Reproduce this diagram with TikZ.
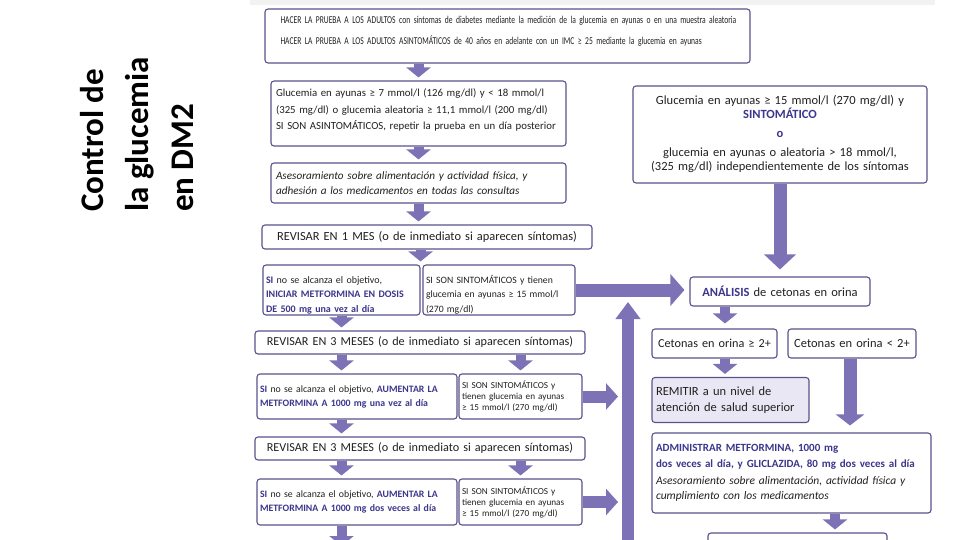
\documentclass[tikz,border=0pt]{standalone}
\usepackage{fontspec}
\setmainfont{Carlito}
\newfontfamily\condfont[FakeStretch=0.72]{Carlito}
\usetikzlibrary{arrows.meta,calc}
\definecolor{arrowc}{RGB}{124,114,181}
\definecolor{bordc}{RGB}{88,82,140}
\definecolor{purp}{RGB}{60,54,140}
\definecolor{txt}{RGB}{35,31,32}
\definecolor{remfill}{RGB}{233,231,243}
\newcommand{\pb}[1]{\textcolor{purp}{\bfseries #1}}
\tikzset{
  box/.style={draw=bordc, line width=1.1pt, rounded corners=3pt, fill=white, inner ysep=0pt, text=txt},
  sarrow/.style={draw=arrowc, line width=10pt, -{Triangle[width=24pt,length=10pt]}, shorten >=3pt},
  marrow/.style={draw=arrowc, line width=12pt, -{Triangle[width=26pt,length=12pt]}},
  barrow/.style={draw=arrowc, line width=13pt, -{Triangle[width=31pt,length=15pt]}},
}
\begin{document}
\hyphenpenalty=10000 \exhyphenpenalty=10000
\begin{tikzpicture}[x=1pt,y=-1pt]
\clip (0,0) rectangle (960,540);
\fill[white] (0,0) rectangle (960,540);
\fill[black!5] (250,0) rectangle (935,5);
% title
\node[rotate=90, anchor=north west, align=left, inner sep=0pt, font=\fontsize{33}{45}\selectfont\bfseries] (title) at (80,212) {Control de\\la glucemia\\en DM2};
% left column
\node[box, minimum width=485, minimum height=54, text width=470, inner xsep=7.5pt, align=left, text depth=33pt, font=\condfont\fontsize{10.5}{21}\selectfont] (b1) at (507.5,36)
 {\hspace*{8pt}HACER LA PRUEBA A LOS ADULTOS con síntomas de diabetes mediante la medición de la glucemia en ayunas o en una muestra aleatoria\\
  \hspace*{8pt}HACER LA PRUEBA A LOS ADULTOS ASINTOMÁTICOS de 40 años en adelante con un IMC ≥ 25 mediante la glucemia en ayunas};
\node[box, minimum width=295, minimum height=65, text width=285, inner xsep=5pt, align=left, text depth=41pt, font=\fontsize{10.8}{16.5}\selectfont] (b2) at (418.5,113.5)
 {Glucemia en ayunas ≥ 7 mmol/l (126 mg/dl) y < 18 mmol/l\\(325 mg/dl) o glucemia aleatoria ≥ 11,1 mmol/l (200 mg/dl)\\SI SON ASINTOMÁTICOS, repetir la prueba en un día posterior};
\node[box, minimum width=295, minimum height=40, text width=285, inner xsep=5pt, align=left, font=\itshape\fontsize{11.2}{15}\selectfont] (b3) at (418.5,183)
 {Asesoramiento sobre alimentación y actividad física, y\\adhesión a los medicamentos en todas las consultas};
\node[box, minimum width=330, minimum height=24, text width=326, inner xsep=2pt, align=center, font=\fontsize{12.4}{15}\selectfont] (b4) at (427,237)
 {REVISAR EN 1 MES (o de inmediato si aparecen síntomas)};
\node[box, minimum width=157, minimum height=50, text width=151, inner xsep=3pt, align=left, text height=17pt, font=\fontsize{10}{14.5}\selectfont] (b5a) at (341.5,290)
 {\pb{SI} no se alcanza el objetivo,\\\pb{INICIAR METFORMINA EN DOSIS}\\\pb{DE 500 mg una vez al día}};
\node[box, minimum width=152, minimum height=50, text width=146, inner xsep=3pt, align=left, text height=17pt, font=\fontsize{9.7}{14.5}\selectfont] (b5b) at (499,290)
 {SI SON SINTOMÁTICOS y tienen\\glucemia en ayunas ≥ 15 mmol/l\\(270 mg/dl)};
\node[box, minimum width=330, minimum height=23, text width=326, inner xsep=2pt, align=center, font=\fontsize{12.2}{15}\selectfont] (b6) at (420,342.5)
 {REVISAR EN 3 MESES (o de inmediato si aparecen síntomas)};
\node[box, minimum width=200, minimum height=45, text width=194, inner xsep=3pt, align=left, font=\fontsize{9.8}{14}\selectfont] (b7a) at (357,396.5)
 {\pb{SI} no se alcanza el objetivo, \pb{AUMENTAR LA}\\\pb{METFORMINA A 1000 mg una vez al día}};
\node[box, minimum width=123, minimum height=45, text width=117, inner xsep=3pt, align=left, font=\fontsize{9.2}{11}\selectfont] (b7b) at (520.5,396.5)
 {SI SON SINTOMÁTICOS y\\tienen glucemia en ayunas\\≥ 15 mmol/l (270 mg/dl)};
\node[box, minimum width=330, minimum height=23, text width=326, inner xsep=2pt, align=center, font=\fontsize{12.2}{15}\selectfont] (b8) at (420,448.5)
 {REVISAR EN 3 MESES (o de inmediato si aparecen síntomas)};
\node[box, minimum width=200, minimum height=46, text width=194, inner xsep=3pt, align=left, font=\fontsize{9.8}{14}\selectfont] (b9a) at (357,502)
 {\pb{SI} no se alcanza el objetivo, \pb{AUMENTAR LA}\\\pb{METFORMINA A 1000 mg dos veces al día}};
\node[box, minimum width=123, minimum height=46, text width=117, inner xsep=3pt, align=left, font=\fontsize{9.2}{11}\selectfont] (b9b) at (520.5,502)
 {SI SON SINTOMÁTICOS y\\tienen glucemia en ayunas\\≥ 15 mmol/l (270 mg/dl)};
% right column
\node[box, minimum width=294, minimum height=97, text width=286, inner xsep=4pt, align=center, font=\fontsize{12.5}{14}\selectfont] (r1) at (780,134.5)
 {Glucemia en ayunas ≥ 15 mmol/l (270 mg/dl) y\\\pb{SINTOMÁTICO}\\[5pt]\pb{o}\\[5pt]glucemia en ayunas o aleatoria > 18 mmol/l,\\(325 mg/dl) independientemente de los síntomas};
\node[box, minimum width=180, minimum height=29, text width=176, inner xsep=2pt, align=center, font=\fontsize{12.5}{15}\selectfont] (ana) at (780,291.5)
 {\pb{ANÁLISIS} de cetonas en orina};
\node[box, minimum width=125, minimum height=29, text width=123, inner xsep=1pt, align=center, font=\fontsize{12.2}{15}\selectfont] (c1) at (714.5,343.5)
 {Cetonas en orina ≥ 2+};
\node[box, minimum width=128, minimum height=29, text width=124, inner xsep=2pt, align=center, font=\fontsize{12.5}{15}\selectfont] (c2) at (852,343.5)
 {Cetonas en orina < 2+};
\node[box, fill=remfill, minimum width=157, minimum height=45, text width=149, inner xsep=4pt, align=left, font=\fontsize{12.5}{15.5}\selectfont] (rem) at (730.5,400)
 {REMITIR a un nivel de\\atención de salud superior};
\node[box, minimum width=279, minimum height=80, text width=271, inner xsep=4pt, align=left, font=\fontsize{11.5}{15.5}\selectfont] (adm) at (791.5,473)
 {\pb{\fontsize{11}{15.5}\selectfont ADMINISTRAR METFORMINA, 1000 mg}\\\pb{\fontsize{11}{15.5}\selectfont dos veces al día, y GLICLAZIDA, 80 mg dos veces al día}\\[1.5pt]\textit{Asesoramiento sobre alimentación, actividad física y}\\\textit{cumplimiento con los medicamentos}};
\node[box, minimum width=179, minimum height=34, text width=169, inner xsep=5pt] (nxt) at (797.5,550) {};
% free ends
\coordinate (upS) at (628,548);
\coordinate (upT) at (628,302);
\coordinate (dnL) at (341.5,549);
% arrows left column
\draw[sarrow] (b1.south -| b2.north) -- (b2.north);
\draw[sarrow] (b2.south) -- (b3.north);
\draw[sarrow] (b3.south) -- (b3.south |- b4.north);
\draw[sarrow] (b4.south -| b5a.east) -- (b5a.north east);
\draw[sarrow] (b5a.south) -- (b5a.south |- b6.north);
\draw[sarrow] (b6.south -| b5a.south) -- (b5a.south |- b7a.north);
\draw[sarrow] (b6.south -| b7b.north) -- (b7b.north);
\draw[sarrow] (b7a.south -| b5a.south) -- (b5a.south |- b8.north);
\draw[sarrow] (b8.south -| b5a.south) -- (b5a.south |- b9a.north);
\draw[sarrow] (b8.south -| b9b.north) -- (b9b.north);
\draw[sarrow] (b9a.south -| b5a.south) -- (dnL);
% arrows to the right
\draw[marrow, line width=13pt, -{Triangle[width=31pt,length=14pt]}, shorten >=5pt] (b5b.east) -- (b5b.east -| ana.west);
\draw[marrow, line width=12pt, -{Triangle[width=24pt,length=17pt]}] (upS) -- (upT);
\draw[marrow, shorten >=10pt] (b7b.east) -- (b7b.east -| upS);
\draw[marrow, shorten >=10pt] (b9b.east) -- (b9b.east -| upS);
% right column arrows
\draw[barrow, shorten >=7pt] (r1.south) -- (ana.north);
\draw[sarrow, shorten >=5pt] ([xshift=-55pt]ana.south) -- ([xshift=-55pt]ana.south |- c1.north);
\draw[sarrow] ([xshift=10.5pt]c1.south) -- ([xshift=10.5pt]c1.south |- rem.north);
\draw[barrow, line width=13pt, -{Triangle[width=28pt,length=11pt]}, shorten >=7pt] ([xshift=-2pt]c2.south) -- ([xshift=-2pt]c2.south |- adm.north);
\draw[sarrow] ([xshift=43.5pt]adm.south) -- ([xshift=43.5pt]adm.south |- nxt.north);
\end{tikzpicture}
\end{document}
